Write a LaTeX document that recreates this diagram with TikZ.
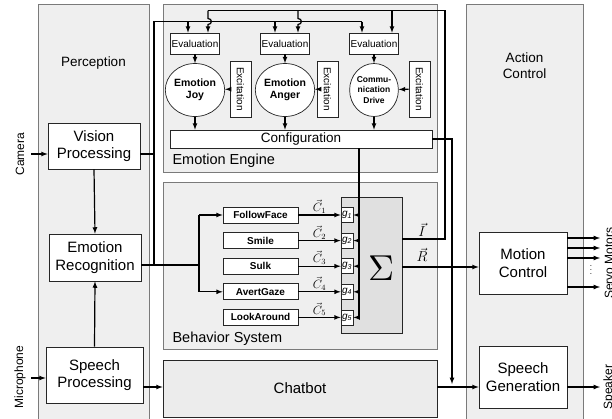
\documentclass[tikz,border=0pt]{standalone}
\usepackage{fontspec}
\setmainfont{Liberation Sans}
\usepackage{tikz}
\usetikzlibrary{shapes}
\usetikzlibrary{calc}
\usetikzlibrary{arrows}
\definecolor{panelgray}{HTML}{EFEFEF}
\definecolor{sumgray}{HTML}{E0E0E0}
\definecolor{chatgray}{HTML}{ECECEC}
\definecolor{framegray}{HTML}{7A7A7A}
\tikzset{panel/.style={draw=framegray, fill=panelgray, line width=.8pt}}
\tikzset{module/.style={draw=black!85, fill=white, line width=.7pt, align=center, inner sep=0pt, font=\fontsize{15}{17.5}\selectfont}}
\tikzset{smallbox/.style={draw=black!85, fill=white, line width=.7pt, inner sep=0pt, font=\fontsize{10}{12}\selectfont}}
\tikzset{emotion/.style={ellipse, draw=black!85, fill=white, line width=.7pt, minimum width=46pt, minimum height=53pt, inner sep=0pt, align=center, font=\bfseries\fontsize{10.5}{12.5}\selectfont}}
\tikzset{behavior/.style={smallbox, minimum width=75pt, minimum height=16pt, font=\bfseries\fontsize{10}{12}\selectfont}}
\tikzset{gain/.style={draw=black!85, fill=white, line width=.7pt, minimum width=12pt, minimum height=15pt, inner sep=0pt, font=\itshape\fontsize{10}{12}\selectfont}}
\tikzset{sensor/.style={rotate=90, font=\fontsize{12}{14}\selectfont}}
\tikzset{wire/.style={line width=1.2pt}}
\tikzset{feed/.style={wire, -latex}}

\begin{document}
\begin{tikzpicture}[x=1pt,y=-1pt]
  \useasboundingbox (0,0) rectangle (612,418);
  \draw[panel] (38,4) rectangle (149,422);
  \draw[panel] (466,4) rectangle (583,422);
  \draw[panel] (163,4) rectangle (437,172);
  \draw[panel] (163,182) rectangle (437,349);
  \node[font=\fontsize{13.5}{16}\selectfont] (perc) at (93.5,63) {Perception};
  \node[font=\fontsize{13.5}{16}\selectfont, align=center] (act) at (524.5,66) {Action\\Control};
  \node[anchor=west, font=\fontsize{14.5}{17}\selectfont] (eetitle) at (169,161) {Emotion Engine};
  \node[anchor=west, font=\fontsize{14.5}{17}\selectfont] (bstitle) at (169,339) {Behavior System};

  \node[module, minimum width=92pt, minimum height=46pt] (vision) at (94,146) {Vision\\Processing};
  \node[module, minimum width=92pt, minimum height=47pt] (emorec) at (95,257.5) {Emotion\\Recognition};
  \node[module, minimum width=97pt, minimum height=56pt] (speechproc) at (94.5,375) {Speech\\Processing};
  \node[module, minimum width=88pt, minimum height=62pt] (motion) at (523,263) {Motion\\Control};
  \node[module, minimum width=88pt, minimum height=62pt] (speechgen) at (523,377) {Speech\\Generation};
  \node[module, fill=chatgray, minimum width=274pt, minimum height=57pt] (chatbot) at (300,388.5) {Chatbot};
  \node[module, minimum width=262pt, minimum height=18pt, font=\fontsize{13.5}{16}\selectfont] (config) at (301,139) {Configuration};

  \node[sensor] (camera) at (20,154) {Camera};
  \node[sensor] (micro) at (20,377) {Microphone};
  \node[sensor] (servo) at (609,263) {Servo Motors};
  \node[sensor] (speaker) at (609,387) {Speaker};
  \coordinate (camin) at (31,154);
  \coordinate (micin) at (31,378);
  \draw[feed] (camin) -- (vision.west |- camin);
  \draw[feed] (micin) -- (speechproc.west |- micin);

  \node[emotion] (joy) at (195,90) {Emotion\\Joy};
  \node[emotion] (anger) at (285,90) {Emotion\\Anger};
  \node[emotion, font=\bfseries\fontsize{8.5}{10.5}\selectfont] (drive) at (374,90) {Commu-\\nication\\Drive};
  \foreach \e/\x/\xe in {joy/195/240.5, anger/285/327.5, drive/374/419.5} {
    \node[smallbox, minimum width=49pt, minimum height=21pt] (eval-\e) at (\x,43.5) {Evaluation};
    \node[smallbox, minimum width=21pt, minimum height=56pt] (exc-\e) at (\xe,89) {\rotatebox{-90}{Excitation}};
    \draw[feed] (eval-\e) -- (\e);
    \draw[feed] (exc-\e) -- (\e);
    \draw[feed] (\e.south) -- (\e.south |- config.north);
  }

  % perception bus
  \coordinate (bustop) at (154,21.5);
  \coordinate (busbot) at (154,265);
  \coordinate (fork) at (199,265);
  \draw[wire] (vision.east |- 0,154) -- (154,154);
  \draw[wire] (emorec.east |- busbot) -- (busbot) -- (bustop) -- (362,21.5);
  \draw[wire] (busbot) -- (fork);
  \foreach \e/\x in {joy/188, anger/275, drive/362} {
    \draw[feed] (\x,21.5) -- (eval-\e.north -| \x,0);
  }
  \draw[feed] (vision.south) -- (emorec.north);
  \draw[feed] (speechproc.north) -- (emorec.south);

  % behavior system
  \node[draw=black!85, fill=sumgray, line width=.7pt, minimum width=61pt, minimum height=136pt] (sigma) at (371.5,265) {};
  \node (sigmasym) at (381,268) {\scalebox{3.6}{$\Sigma$}};
  \draw[wire] (config.south -| 359,0) -- (359,317.4);
  \foreach \i/\lab in {1/FollowFace, 2/Smile, 3/Sulk, 4/AvertGaze, 5/LookAround} {
    \pgfmathsetmacro\y{215+25.6*(\i-1)}
    \node[behavior] (b\i) at (260.5,\y) {\lab};
    \node[gain] (g\i) at (347,\y) {g\textsubscript{\i}};
    \draw[feed] (b\i) -- (g\i) node[midway, above=-2.5pt, font=\fontsize{12}{14}\selectfont] {$\vec{C}_{\i}$};
    \draw[feed] (359,\y) -- (g\i.east);
  }
  \draw[wire] (fork |- b1) -- (fork |- b4);
  \draw[feed] (fork |- b1) -- (b1);
  \draw[feed] (fork |- b4) -- (b4);

  % intensity feedback
  \draw[wire] (sigma.east |- 0,239) -- (445,239) -- (445,10.5) -- (208,10.5);
  \foreach \e/\x in {joy/208, anger/298} {
    \draw[feed] (\x,10.5) -- (\x,18.5) .. controls ({\x+4.5},18.5) and ({\x+4.5},24.5) .. (\x,24.5) -- (eval-\e.north -| \x,0);
  }
  \draw[feed] (392,10.5) -- (eval-drive.north -| 392,0);
  \node[font=\fontsize{14}{16}\selectfont] (ivec) at (422,230) {$\vec{I}$};
  \node[font=\fontsize{14}{16}\selectfont] (rvec) at (422,255) {$\vec{R}$};
  \draw[feed] (sigma.east |- 0,267) -- (motion.west |- 0,267);

  % action control
  \draw[feed] (config.east) -- (452,139) -- (452,384);
  \draw[feed] (speechproc.east |- 0,387) -- (chatbot.west |- 0,387);
  \draw[feed] (chatbot.east |- 0,387) -- (speechgen.west |- 0,387);
  \foreach \y in {238,248,258,287} {
    \draw[feed] (motion.east |- 0,\y) -- (600,\y);
  }
  \node[font=\fontsize{8}{9}\selectfont] (dots) at (591,267) {$\vdots$};
  \draw[feed] (speechgen.east |- 0,387) -- (600,387);
\end{tikzpicture}
\end{document}
